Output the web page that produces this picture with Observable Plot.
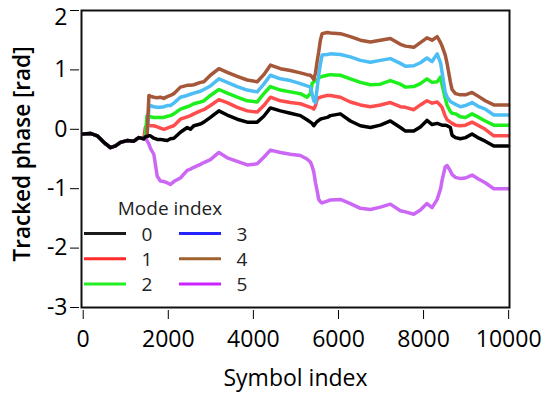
<!DOCTYPE html>
<html><head><meta charset="utf-8">
<script src="https://cdn.jsdelivr.net/npm/d3@7"></script>
<script src="https://cdn.jsdelivr.net/npm/@observablehq/plot@0.6"></script>
<style>
body{margin:0;background:#fff;}
#wrap{position:relative;width:545px;height:399px;font-family:"Open Sans",sans-serif;}
</style></head><body><div id="wrap"></div>
<script>
const symbolIndex = [0,170,330,485,640,760,875,1030,1190,1305,
1425,1460,1500,1545,1580,1660,1740,1815,1895,1975,
2050,2130,2285,2445,2520,2600,2755,2835,2990,3190,
3385,3620,3855,4090,4245,4400,4635,4870,5105,5260,
5340,5380,5420,5460,5500,5535,5575,5615,5735,5810,
6045,6280,6515,6750,6985,7220,7455,7575,7770,7925,
8080,8200,8320,8400,8435,8510,8555,8630,8670,8750,
8865,8985,9140,9300,9450,9650,10000];

const mode0 = [-0.08,-0.07,-0.11,-0.22,-0.31,-0.28,-0.22,-0.19,-0.2,-0.14,
-0.16,-0.13,-0.12,-0.11,-0.11,-0.15,-0.17,-0.17,-0.18,-0.19,
-0.16,-0.15,-0.05,0.03,0.0,0.06,0.09,0.12,0.2,0.31,
0.24,0.17,0.12,0.12,0.22,0.36,0.31,0.27,0.23,0.16,
0.12,0.1,0.06,0.1,0.13,0.15,0.17,0.18,0.2,0.23,
0.26,0.14,0.06,0.03,0.07,0.14,0.03,-0.03,-0.03,0.04,
0.15,0.08,0.1,0.08,0.07,0.07,0.06,0.03,-0.1,-0.14,
-0.16,-0.14,-0.08,-0.15,-0.2,-0.28,-0.28];

const mode1 = [-0.08,-0.07,-0.11,-0.22,-0.31,-0.28,-0.22,-0.19,-0.2,-0.14,
-0.16,0.03,0.07,0.07,0.06,0.06,0.04,0.02,0.0,0.02,
0.04,0.06,0.17,0.21,0.23,0.26,0.31,0.33,0.40,0.50,
0.45,0.37,0.31,0.29,0.40,0.54,0.48,0.45,0.43,0.39,
0.37,0.36,0.34,0.40,0.51,0.53,0.54,0.55,0.57,0.57,
0.54,0.46,0.41,0.38,0.41,0.45,0.38,0.37,0.33,0.41,
0.48,0.44,0.46,0.40,0.37,0.22,0.16,0.12,0.10,0.07,
0.06,0.07,0.12,0.06,0.0,-0.11,-0.11];

const mode2 = [-0.08,-0.07,-0.11,-0.22,-0.31,-0.28,-0.22,-0.19,-0.2,-0.14,
-0.16,-0.13,0.23,0.22,0.21,0.20,0.20,0.20,0.20,0.22,
0.23,0.26,0.34,0.38,0.40,0.43,0.46,0.48,0.57,0.67,
0.61,0.54,0.48,0.46,0.60,0.72,0.66,0.63,0.60,0.54,
0.60,0.77,0.80,0.82,0.84,0.86,0.88,0.89,0.91,0.92,
0.91,0.85,0.79,0.75,0.76,0.82,0.76,0.71,0.72,0.77,
0.85,0.79,0.80,0.88,0.75,0.52,0.40,0.30,0.27,0.26,
0.21,0.20,0.26,0.20,0.14,0.07,0.07];

const mode3 = [-0.08,-0.07,-0.11,-0.22,-0.31,-0.28,-0.22,-0.19,-0.2,-0.14,
-0.16,-0.13,-0.12,0.37,0.40,0.38,0.37,0.37,0.38,0.40,
0.40,0.44,0.54,0.57,0.59,0.61,0.64,0.67,0.73,0.85,
0.79,0.72,0.66,0.63,0.76,0.91,0.85,0.82,0.77,0.73,
0.71,0.60,0.48,0.45,0.70,0.91,1.10,1.25,1.26,1.27,
1.26,1.22,1.16,1.13,1.16,1.19,1.11,1.06,1.07,1.12,
1.20,1.14,1.27,1.12,0.96,0.62,0.54,0.47,0.45,0.42,
0.38,0.40,0.45,0.38,0.34,0.24,0.24];

const mode4 = [-0.08,-0.07,-0.11,-0.22,-0.31,-0.28,-0.22,-0.19,-0.2,-0.14,
-0.16,-0.13,-0.12,0.57,0.56,0.54,0.53,0.54,0.52,0.55,
0.57,0.60,0.71,0.74,0.74,0.75,0.79,0.80,0.91,1.02,
0.96,0.89,0.83,0.80,0.92,1.08,1.02,0.99,0.95,0.92,
0.91,0.88,0.84,0.95,1.15,1.30,1.50,1.61,1.63,1.62,
1.61,1.56,1.50,1.47,1.50,1.53,1.43,1.40,1.38,1.46,
1.54,1.50,1.56,1.46,1.40,1.25,1.10,0.80,0.67,0.60,
0.58,0.58,0.62,0.55,0.48,0.41,0.41];

const mode5 = [-0.08,-0.07,-0.11,-0.22,-0.31,-0.28,-0.22,-0.19,-0.2,-0.14,
-0.16,-0.13,-0.19,-0.25,-0.32,-0.42,-0.79,-0.87,-0.88,-0.90,
-0.93,-0.88,-0.82,-0.69,-0.67,-0.64,-0.59,-0.56,-0.51,-0.39,
-0.48,-0.54,-0.60,-0.58,-0.47,-0.35,-0.39,-0.42,-0.44,-0.50,
-0.55,-0.62,-0.72,-0.90,-1.04,-1.18,-1.22,-1.24,-1.21,-1.19,
-1.18,-1.25,-1.33,-1.35,-1.31,-1.26,-1.37,-1.39,-1.43,-1.36,
-1.25,-1.32,-1.18,-1.00,-0.86,-0.63,-0.61,-0.70,-0.76,-0.81,
-0.83,-0.82,-0.77,-0.84,-0.90,-1.0,-1.0];

const modeNames = ["0","1","2","3","4","5"];
const lineColors = ["#000000","#ff4d4d","#1cef1c","#4cbdf5","#a5573a","#cc66f5"];
const legendColors = ["#1a1a1a","#ff2b2b","#22ee22","#2424ff","#a0622d","#cc22ff"];
const xTicks = [0,2000,4000,6000,8000,10000];
const yTicks = [-3,-2,-1,0,1,2];
const xLabel = "Symbol index";
const yLabel = "Tracked phase [rad]";
const legendTitle = "Mode index";

const series = [mode0, mode1, mode2, mode3, mode4, mode5];
const rows = [];
series.forEach((vals, m) => vals.forEach((v, i) => rows.push({mode: modeNames[m], x: symbolIndex[i], y: v})));
const drawOrder = [1, 2, 3, 4, 5, 0];
const ff = '"Open Sans", sans-serif';
const yMax = d3.max(yTicks);

const chart = Plot.plot({
  width: 545, height: 399,
  marginLeft: 81, marginRight: 36, marginTop: 10, marginBottom: 92,
  style: {fontFamily: ff, background: "white", color: "#000", fontSize: "23px"},
  x: {domain: [-40, 10020]},
  y: {domain: [-3, 2]},
  marks: [
    ...drawOrder.map(m => Plot.line(rows.filter(d => d.mode === modeNames[m]), {x: "x", y: "y", stroke: lineColors[m], strokeWidth: 3.5})),
    Plot.frame({stroke: "#111", strokeWidth: 2}),
    Plot.axisY({ticks: yTicks.filter(t => t < yMax), anchor: "left", tickSize: 9, tickPadding: 3, dx: -2, tickFormat: d => String(d), label: null, fontSize: 23}),
    Plot.axisY({ticks: [yMax], anchor: "left", tickSize: 9, dx: -2, tickFormat: () => "", label: null}),
    Plot.axisY({ticks: [yMax], anchor: "left", tickSize: 0, tickPadding: 12, dx: -2, dy: 7, tickFormat: d => String(d), label: null, fontSize: 23}),
    Plot.axisX({ticks: xTicks, anchor: "bottom", tickSize: 9, tickPadding: 11, dy: 3, tickFormat: d => String(d), label: null, fontSize: 23}),
    Plot.text([xLabel], {frameAnchor: "bottom", dy: 71, text: d => d, fontSize: 23, lineAnchor: "middle", textAnchor: "middle"}),
    Plot.text([yLabel], {frameAnchor: "left", dx: -59, dy: -5, rotate: -90, text: d => d, fontSize: 22.5, fontWeight: 600, lineAnchor: "middle", textAnchor: "middle"})
  ]
});
const wrap = document.getElementById("wrap");
wrap.appendChild(chart);

const lg = d3.select(wrap).append("svg")
  .attr("width", 545).attr("height", 399)
  .style("position", "absolute").style("left", "0px").style("top", "0px")
  .style("font-family", ff);
lg.append("text").attr("x", 170).attr("y", 208).attr("text-anchor", "middle")
  .attr("dominant-baseline", "central").attr("fill", "#222").style("font-size", "19px").text(legendTitle);
modeNames.forEach((name, i) => {
  const col = Math.floor(i / 3), row = i % 3;
  const x0 = 84 + col * 95, y = 233.5 + row * 25.3;
  lg.append("line").attr("x1", x0).attr("x2", x0 + 42).attr("y1", y).attr("y2", y)
    .attr("stroke", legendColors[i]).attr("stroke-width", 3);
  lg.append("text").attr("x", x0 + 63).attr("y", y).attr("text-anchor", "middle")
    .attr("dominant-baseline", "central").attr("fill", "#222").style("font-size", "19px").text(name);
});
</script></body></html>
